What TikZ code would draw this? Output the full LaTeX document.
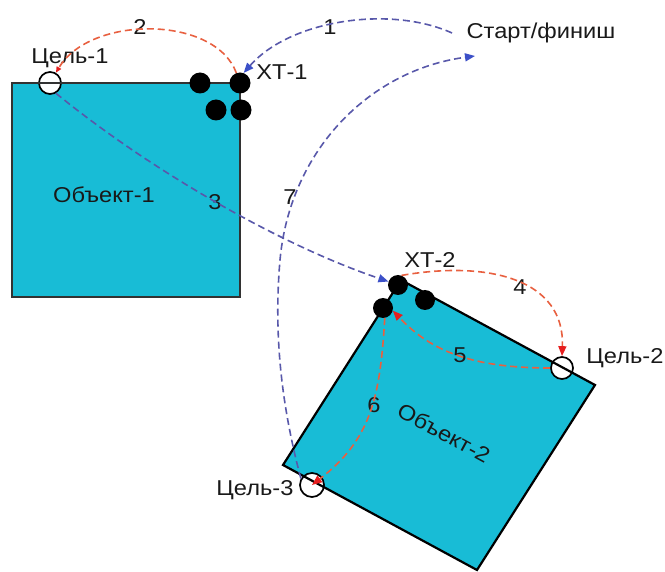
\documentclass[tikz,border=0pt]{standalone}
\usepackage{fontspec}
\setmainfont{Liberation Sans}[FakeStretch=1.1]
\usetikzlibrary{arrows.meta}
\definecolor{objcyan}{RGB}{24,188,214}
\definecolor{bluedash}{RGB}{88,88,170}
\definecolor{bluetip}{RGB}{60,80,200}
\definecolor{reddash}{RGB}{232,96,64}
\definecolor{redtip}{RGB}{230,30,30}
\definecolor{txt}{RGB}{25,25,25}
\begin{document}
\begin{tikzpicture}[x=1pt,y=-1pt,
  lbl/.style={text=txt,inner sep=0pt,font=\fontsize{21.5}{25}\selectfont},
  dot/.style={circle,fill=black,inner sep=0pt,minimum size=#1},
  goal/.style={circle,draw=black,line width=1.7pt,fill=white,inner sep=0pt,minimum size=#1},
  bluearr/.style={draw=bluedash,line width=1.6pt,dash pattern=on 7pt off 4pt,
    -{Triangle[length=10pt,width=8pt,color=bluetip]}},
  redarr/.style={draw=reddash,line width=1.6pt,dash pattern=on 7pt off 4pt,
    -{Triangle[length=10pt,width=8pt,color=redtip]}}]
\useasboundingbox (0,0) rectangle (665,572);
% object fills
\fill[objcyan] (12,83) rectangle (240,297);
\fill[objcyan] (283,465) -- (401,280) -- (595,385) -- (477,570) -- cycle;
% goal circles
\node[goal=22pt] (g1) at (50,83) {};
\node[goal=22pt] (g2) at (562,368) {};
\node[goal=24pt] (g3) at (312,485) {};
% outlines
\draw[line width=2.2pt,draw={rgb,255:red,50;green,50;blue,50}] (12,83) rectangle (240,297);
\draw[line width=2.2pt,line join=miter] (283,465) -- (401,280) -- (595,385) -- (477,570) -- cycle;
% dots
\node[dot=21pt] (xt1a) at (200,83) {};
\node[dot=21pt] (xt1b) at (240,83) {};
\node[dot=21pt] (xt1c) at (216,110) {};
\node[dot=21pt] (xt1d) at (241,110) {};
\node[dot=20pt] (xt2a) at (398,285) {};
\node[dot=20pt] (xt2b) at (425,300) {};
\node[dot=20pt] (xt2c) at (383,308) {};
% labels
\node[lbl] (start) at (541,33) {Старт/финиш};
\coordinate (s1) at (452,33);
\coordinate (s2) at (475,56);
\node[lbl] (lg1) at (70,58) {Цель-1};
\node[lbl] (lxt1) at (282,72) {ХТ-1};
\node[lbl] (lxt2) at (430,260) {ХТ-2};
\node[lbl] (lg2) at (625,358) {Цель-2};
\node[lbl] (lg3) at (255,490) {Цель-3};
\node[lbl] (lo1) at (104,195) {Объект-1};
\node[lbl,rotate=-28.5] (lo2) at (444,433) {Объект-2};
\node[lbl] (n1) at (330,27) {1};
\node[lbl] (n2) at (140,27) {2};
\node[lbl] (n3) at (215,202) {3};
\node[lbl] (n4) at (520,287) {4};
\node[lbl] (n5) at (460,355) {5};
\node[lbl] (n6) at (374,405) {6};
\node[lbl] (n7) at (290,197) {7};
% connectors
\draw[bluearr] (s1) .. controls (390,5) and (290,20) .. (xt1b.70);
\draw[redarr,-{Triangle[length=6pt,width=5pt,color=redtip]}] (xt1b.110) .. controls (215,15) and (90,15) .. (g1.60);
\draw[bluearr] (g1.-60) .. controls (150,170) and (280,245) .. (xt2a.160);
\draw[redarr] (xt2a.70) .. controls (490,260) and (565,280) .. (g2.90);
\draw[redarr] (g2.180) .. controls (470,368) and (430,350) .. (xt2c.-15);
\draw[redarr] (xt2c.-80) .. controls (380,400) and (370,440) .. (g3.center);
\draw[bluearr] (g3.150) .. controls (280,400) and (274,330) .. (280,260)
  .. controls (290,150) and (370,70) .. (s2);
\end{tikzpicture}
\end{document}
